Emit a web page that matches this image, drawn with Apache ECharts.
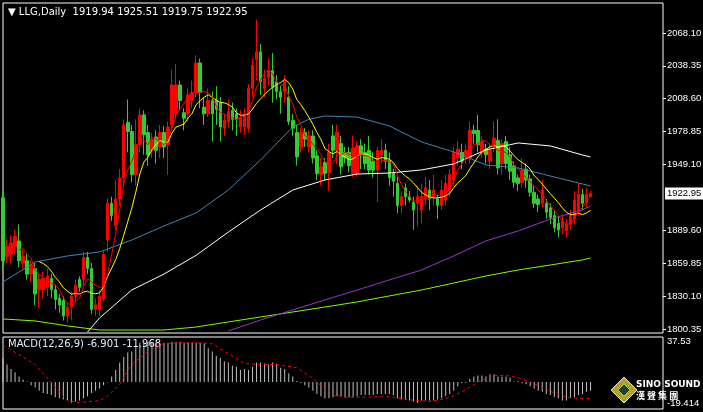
<!DOCTYPE html>
<html><head><meta charset="utf-8">
<script src="https://cdn.jsdelivr.net/npm/echarts@6/dist/echarts.min.js"></script>
<style>html,body{margin:0;padding:0;background:#000;}#c{width:703px;height:412px;}</style>
</head><body><div id="c"></div>
<script>
// candles: [open, close, low, high]
const ohlc = [
[1919,1862,1855,1925],[1866,1875,1860,1882],[1868,1878,1860,1885],[1875,1884,1868,1890],[1880,1862,1856,1895],
[1860,1866,1855,1872],[1862,1850,1845,1868],[1850,1858,1843,1862],[1855,1832,1822,1860],[1836,1845,1820,1850],
[1836,1846,1828,1852],[1838,1848,1830,1855],[1846,1836,1828,1850],[1836,1827,1818,1840],[1828,1822,1815,1832],
[1826,1812,1808,1830],[1812,1820,1806,1824],[1820,1830,1808,1834],[1830,1840,1825,1845],[1845,1838,1834,1848],
[1845,1865,1840,1870],[1865,1855,1850,1870],[1855,1818,1814,1860],[1818,1822,1812,1828],[1818,1830,1812,1835],
[1828,1868,1825,1872],[1881,1914,1870,1918],[1914,1903,1898,1920],[1894,1918,1890,1935],[1918,1937,1912,1945],
[1937,1985,1930,1990],[1987,1979,1960,2008],[1979,1940,1933,1985],[1940,1967,1930,1990],[1967,1994,1960,2000],
[1994,1976,1958,1998],[1978,1958,1948,1985],[1962,1972,1955,1978],[1974,1962,1950,1980],[1965,1978,1955,1985],
[1978,1965,1955,1984],[1967,1983,1940,1988],[1985,2021,1980,2035],[1995,2021,1990,2040],[2021,2007,1998,2025],
[1996,1991,1980,2000],[1995,2012,1988,2018],[2007,2014,2000,2025],[2014,2041,2010,2048],[2041,2014,2000,2045],
[2001,1995,1985,2010],[1995,2007,1992,2018],[2007,1995,1970,2015],[2007,1999,1985,2020],[2005,1983,1970,2010],
[1982,1989,1975,1995],[1988,1997,1982,2008],[1998,1990,1980,2005],[1995,1990,1975,2000],[1983,1992,1978,1998],
[1983,1995,1976,2000],[1982,2018,1978,2022],[2018,2039,2010,2045],[2044,2051,2025,2080],[2051,2024,2012,2058],
[2018,2027,2010,2035],[2028,2034,2020,2045],[2034,2019,2005,2050],[2024,2015,2008,2030],[2015,2010,1995,2020],
[2015,2024,2005,2030],[2010,1988,1985,2020],[1989,1982,1975,1995],[1978,1956,1948,1985],[1965,1978,1960,1982],
[1978,1972,1965,1982],[1965,1975,1960,1980],[1975,1955,1950,1980],[1957,1941,1935,1962],[1940,1947,1930,1955],
[1951,1941,1935,1955],[1942,1960,1925,1968],[1975,1962,1955,1985],[1962,1978,1950,1985],[1968,1947,1940,1975],
[1960,1955,1950,1965],[1960,1948,1942,1965],[1941,1964,1938,1975],[1941,1966,1938,1970],[1966,1958,1945,1972],
[1960,1950,1945,1968],[1962,1944,1940,1975],[1952,1944,1937,1960],[1944,1962,1915,1965],[1958,1962,1950,1972],
[1962,1952,1945,1968],[1953,1937,1930,1960],[1941,1934,1920,1945],[1932,1912,1905,1938],[1912,1920,1905,1925],
[1928,1920,1912,1932],[1920,1917,1915,1925],[1915,1908,1890,1920],[1914,1920,1893,1930],[1908,1920,1896,1932],
[1920,1928,1912,1938],[1926,1918,1908,1935],[1920,1926,1912,1940],[1918,1912,1900,1922],[1912,1926,1908,1935],
[1917,1932,1912,1940],[1926,1940,1920,1945],[1935,1960,1930,1965],[1955,1963,1948,1970],[1960,1952,1945,1968],
[1956,1962,1950,1968],[1955,1980,1950,1988],[1980,1977,1968,1985],[1980,1967,1960,1994],[1960,1970,1955,1975],
[1963,1958,1950,1968],[1952,1962,1945,1968],[1966,1973,1960,1988],[1971,1946,1940,1990],[1950,1968,1940,1972],
[1970,1950,1945,1975],[1958,1943,1935,1965],[1948,1933,1928,1952],[1937,1932,1925,1940],[1933,1944,1928,1955],
[1945,1935,1928,1950],[1936,1924,1920,1940],[1924,1914,1910,1930],[1918,1913,1906,1922],[1914,1926,1910,1935],
[1914,1906,1900,1918],[1910,1901,1895,1914],[1903,1892,1888,1908],[1896,1890,1883,1902],[1892,1898,1886,1903],
[1889,1895,1883,1900],[1895,1903,1890,1908],[1900,1917,1895,1925],[1907,1922,1903,1932],[1922,1914,1908,1927],
[1915,1922,1910,1928],[1919.94,1922.95,1919.75,1925.51]
];
// long moving averages: [candleIndex, value]
const blueMA = [[0,1842.9],[4,1852],[8,1860.9],[16,1866.4],[24,1870],[32,1880.8],[40,1893.5],[48,1905.3],[56,1926.1],[64,1953.2],[72,1983.1],[76,1990],[80,1993],[88,1992],[96,1984],[104,1969.5],[112,1960.5],[120,1948.7],[128,1946],[136,1938.7],[144,1931.5],[146,1929.7]];
const whiteMA = [[21,1797.6],[24,1810.3],[32,1835.6],[40,1850],[48,1867],[56,1888],[64,1908],[72,1926],[80,1935.1],[88,1940.5],[96,1941.4],[104,1944.2],[112,1949.6],[120,1962.3],[128,1968.6],[136,1965.9],[144,1957.7],[146,1955.9]];
const purpleMA = [[56,1798.5],[64,1808.5],[72,1817.5],[80,1826.6],[88,1835.6],[96,1844.7],[104,1853.7],[112,1866.4],[120,1880],[128,1889],[136,1899.8],[144,1908],[146,1911.6]];
const greenMA = [[0,1809.4],[8,1807.6],[16,1803.1],[24,1799.4],[32,1799.4],[40,1799.4],[48,1802.1],[56,1806.7],[64,1811.2],[72,1815.7],[80,1820.2],[88,1824.8],[96,1830.2],[104,1835.6],[112,1841.9],[120,1848.3],[128,1853.7],[136,1858.2],[144,1862.8],[146,1864.6]];
const macdHist = [22,16,12,9,5,2,0.5,-3,-5,-8,-10,-11,-12,-14,-15,-16,-17,-19,-18,-17,-15,-13,-10,-8,-6,-3,-0.5,5,11,18,23,27,28,32,36,37,37,36,36,35,36,36,37,37,37,36,36,36,36,36,35,31,28,24,22,19,18,15,14,11,12,11,14,18,18,17,16,18,17,13,12,8,5,1,-1,-3,-5,-8,-11,-13,-15,-15,-14,-13,-13,-14,-14,-14,-13,-12,-12,-12,-12,-11,-11,-11,-11,-12,-15,-16,-16,-17,-18,-19,-17,-17,-17,-17,-16,-15,-13,-11,-8,-4,-1,-1,3,5,6,6,5,7,7,5,5,5,4,0.5,1,-1,-2,-4,-6,-8,-9,-11,-12,-14,-15,-17,-17,-15,-14,-12,-11,-9,-8];
const macdSignal = [[0,34],[8,16],[16,-17],[19,-19],[24,-17],[26,-13],[29,-2],[32,16],[36,28],[40,35],[44,36],[48,36],[52,35],[56,26],[60,17],[64,16],[68,16],[73,13],[76,6],[79,-3],[82,-12],[85,-14],[88,-14],[91,-14],[94,-13],[97,-14],[100,-16],[103,-17],[106,-18],[109,-16],[112,-13],[115,-7],[118,0],[122,6],[125,6],[128,4],[131,0],[134,-5],[137,-10],[140,-14],[143,-15],[146,-15]];
const priceTicks = [2068.10,2038.35,2008.60,1978.85,1949.10,1889.60,1859.85,1830.10,1800.35];
const lastPrice = 1922.95;
const macdTicks = [37.53,-19.414];

const cats = ohlc.map((d,i)=>i);
const closes = ohlc.map(d=>d[1]);
function ma(n){return closes.map((v,i)=>{if(i<n-1)return '-';let s=0;for(let k=i-n+1;k<=i;k++)s+=closes[k];return +(s/n).toFixed(2);});}

const chart = echarts.init(document.getElementById('c'));
const lineS = (data,color,xi)=>({type:'line',data,xAxisIndex:xi||0,yAxisIndex:xi||0,symbol:'none',connectNulls:true,lineStyle:{color,width:1},silent:true});
const hidden = {axisLine:{show:false},splitLine:{show:false}};
const lab = {color:'#fff',fontSize:9.5,fontFamily:'Liberation Sans',margin:4};
const gridBase = {left:3,width:660,show:true,borderColor:'#fff',borderWidth:1,backgroundColor:'#000',containLabel:false,outerBoundsMode:'none'};
chart.setOption({
  backgroundColor:'#000',
  animation:false,
  grid:[
    {...gridBase,top:3,height:330},
    {...gridBase,top:337,height:72}
  ],
  xAxis:[
    {type:'category',data:cats,gridIndex:0,min:-0.5,max:164,boundaryGap:false,axisLine:{show:false},axisTick:{show:false},axisLabel:{show:false},splitLine:{show:false}},
    {type:'category',data:cats,gridIndex:1,min:-0.5,max:164,boundaryGap:false,axisLine:{show:false},axisTick:{show:false},axisLabel:{show:false},splitLine:{show:false}}
  ],
  yAxis:[
    {type:'value',gridIndex:0,min:1796.7,max:2095.2,position:'right',...hidden,
     axisTick:{show:true,customValues:priceTicks,length:3,lineStyle:{color:'#fff'}},
     axisLabel:{...lab,customValues:priceTicks,formatter:v=>(+v).toFixed(2)}},
    {type:'value',gridIndex:1,min:-24.8,max:41.3,position:'right',...hidden,
     axisTick:{show:false},
     axisLabel:{...lab,customValues:macdTicks,formatter:v=>String(v)}},
    {type:'value',gridIndex:0,min:1796.7,max:2095.2,position:'right',...hidden,
     axisTick:{show:false},
     axisLabel:{...lab,color:'#000',backgroundColor:'#fff',padding:[1,2],margin:2,customValues:[lastPrice],formatter:v=>(+v).toFixed(2)}}
  ],
  series:[
    {type:'candlestick',data:ohlc,barWidth:3,silent:true,
     itemStyle:{color:'#ff0000',color0:'#32cd32',borderColor:'#ff0000',borderColor0:'#32cd32',borderWidth:1}},
    lineS(greenMA,'#7cfc00'),
    lineS(purpleMA,'#9932cc'),
    lineS(whiteMA,'#ffffff'),
    lineS(blueMA,'#4682b4'),
    lineS(ma(10),'#ffff00'),
    lineS(ma(5),'#ff0000'),
    {type:'bar',data:macdHist,xAxisIndex:1,yAxisIndex:1,barWidth:1,silent:true,itemStyle:{color:'#c0c0c0'}},
    {type:'line',data:macdSignal,xAxisIndex:1,yAxisIndex:1,symbol:'none',silent:true,lineStyle:{color:'#ff0000',width:1,type:[3,3]}}
  ],
  graphic:[
    {type:'text',left:8,top:7,style:{text:'▼ LLG,Daily  1919.94 1925.51 1919.75 1922.95',fill:'#fff',font:'10px DejaVu Sans'}},
    {type:'text',left:8,top:339,style:{text:'MACD(12,26,9) -6.901 -11.968',fill:'#dfefff',font:'10px DejaVu Sans'}},
    {type:'polygon',shape:{points:[[624,377],[637,390],[624,403],[611,390]]},style:{fill:'#b8a020',stroke:'#ddd',lineWidth:1}},
    {type:'polygon',shape:{points:[[624,384],[630,390],[624,396],[618,390]]},style:{fill:'#224422',stroke:'#7c7',lineWidth:1}},
    {type:'text',left:636,top:380,style:{text:'SINO SOUND',fill:'#fff',font:'bold 9px DejaVu Sans'}},
    {type:'text',left:636,top:391,style:{text:'漢 聲 集 團',fill:'#fff',font:'bold 9px "Noto Sans CJK TC"'}}
  ]
});
</script></body></html>
